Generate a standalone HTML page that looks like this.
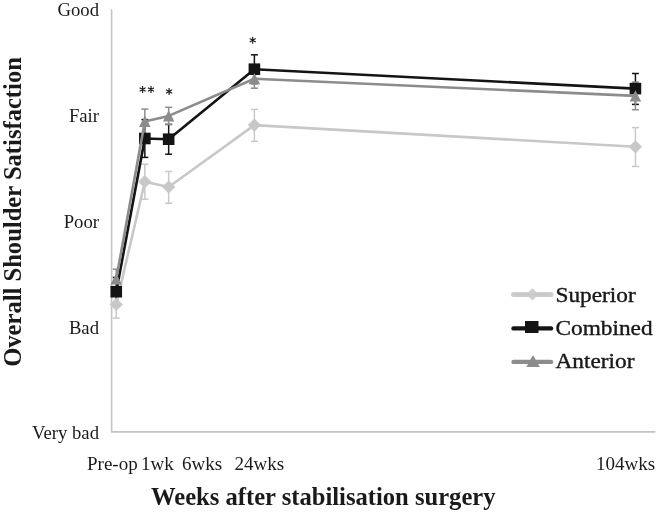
<!DOCTYPE html>
<html><head><meta charset="utf-8">
<style>
html,body{margin:0;padding:0;background:#fff;}
body{width:666px;height:513px;overflow:hidden;}
svg{display:block;will-change:transform;}
text{font-family:"Liberation Serif",serif;fill:#1a1a1a;}
</style></head><body>
<svg width="666" height="513" viewBox="0 0 666 513">
<rect width="666" height="513" fill="#fff"/>
<!-- axes -->
<path d="M111.6 9.8 V431.9 H654.8" fill="none" stroke="#c4c4c4" stroke-width="1.6" stroke-linejoin="round" stroke-linecap="round"/>
<!-- y labels -->
<g font-size="18.7" text-anchor="end">
<text x="99" y="16.2">Good</text>
<text x="99" y="122">Fair</text>
<text x="99" y="227.8">Poor</text>
<text x="99" y="333.6">Bad</text>
<text x="99" y="439.1">Very bad</text>
</g>
<!-- x labels -->
<g font-size="19">
<text x="87" y="469.6">Pre-op</text>
<text x="141" y="469.6">1wk</text>
<text x="182" y="469.6">6wks</text>
<text x="234.5" y="469.6">24wks</text>
<text x="596" y="469.6">104wks</text>
</g>
<text x="151" y="505.1" font-size="24.6" font-weight="bold">Weeks after stabilisation surgery</text>
<text transform="translate(21,212) rotate(-90)" text-anchor="middle" font-size="24.6" font-weight="bold">Overall Shoulder Satisfaction</text>
<g stroke="#c8c8c8" stroke-width="1.5"><line x1="116.26" y1="304.40" x2="116.26" y2="318.10"/><line x1="112.76" y1="318.10" x2="119.76" y2="318.10"/><line x1="144.84" y1="181.70" x2="144.84" y2="164.20"/><line x1="141.34" y1="164.20" x2="148.34" y2="164.20"/><line x1="144.84" y1="181.70" x2="144.84" y2="199.20"/><line x1="141.34" y1="199.20" x2="148.34" y2="199.20"/><line x1="168.66" y1="187.00" x2="168.66" y2="171.50"/><line x1="165.16" y1="171.50" x2="172.16" y2="171.50"/><line x1="168.66" y1="187.00" x2="168.66" y2="203.20"/><line x1="165.16" y1="203.20" x2="172.16" y2="203.20"/><line x1="254.39" y1="125.10" x2="254.39" y2="109.40"/><line x1="250.89" y1="109.40" x2="257.89" y2="109.40"/><line x1="254.39" y1="125.10" x2="254.39" y2="141.40"/><line x1="250.89" y1="141.40" x2="257.89" y2="141.40"/><line x1="635.43" y1="146.80" x2="635.43" y2="127.60"/><line x1="631.93" y1="127.60" x2="638.93" y2="127.60"/><line x1="635.43" y1="146.80" x2="635.43" y2="166.50"/><line x1="631.93" y1="166.50" x2="638.93" y2="166.50"/></g>
<g stroke="#141414" stroke-width="1.5"><line x1="116.26" y1="291.70" x2="116.26" y2="277.40"/><line x1="112.76" y1="277.40" x2="119.76" y2="277.40"/><line x1="116.26" y1="291.70" x2="116.26" y2="306.00"/><line x1="112.76" y1="306.00" x2="119.76" y2="306.00"/><line x1="144.84" y1="138.50" x2="144.84" y2="119.60"/><line x1="141.34" y1="119.60" x2="148.34" y2="119.60"/><line x1="144.84" y1="138.50" x2="144.84" y2="157.40"/><line x1="141.34" y1="157.40" x2="148.34" y2="157.40"/><line x1="168.66" y1="139.20" x2="168.66" y2="124.40"/><line x1="165.16" y1="124.40" x2="172.16" y2="124.40"/><line x1="168.66" y1="139.20" x2="168.66" y2="154.20"/><line x1="165.16" y1="154.20" x2="172.16" y2="154.20"/><line x1="254.39" y1="69.20" x2="254.39" y2="54.80"/><line x1="250.89" y1="54.80" x2="257.89" y2="54.80"/><line x1="254.39" y1="69.20" x2="254.39" y2="83.60"/><line x1="250.89" y1="83.60" x2="257.89" y2="83.60"/><line x1="635.43" y1="88.60" x2="635.43" y2="73.50"/><line x1="631.93" y1="73.50" x2="638.93" y2="73.50"/><line x1="635.43" y1="88.60" x2="635.43" y2="104.40"/><line x1="631.93" y1="104.40" x2="638.93" y2="104.40"/></g>
<g stroke="#8c8c8c" stroke-width="1.5"><line x1="116.26" y1="278.80" x2="116.26" y2="269.20"/><line x1="112.76" y1="269.20" x2="119.76" y2="269.20"/><line x1="116.26" y1="278.80" x2="116.26" y2="288.40"/><line x1="112.76" y1="288.40" x2="119.76" y2="288.40"/><line x1="144.84" y1="121.40" x2="144.84" y2="109.10"/><line x1="141.34" y1="109.10" x2="148.34" y2="109.10"/><line x1="144.84" y1="121.40" x2="144.84" y2="133.70"/><line x1="141.34" y1="133.70" x2="148.34" y2="133.70"/><line x1="168.66" y1="115.90" x2="168.66" y2="107.30"/><line x1="165.16" y1="107.30" x2="172.16" y2="107.30"/><line x1="168.66" y1="115.90" x2="168.66" y2="124.50"/><line x1="165.16" y1="124.50" x2="172.16" y2="124.50"/><line x1="254.39" y1="78.70" x2="254.39" y2="69.20"/><line x1="250.89" y1="69.20" x2="257.89" y2="69.20"/><line x1="254.39" y1="78.70" x2="254.39" y2="88.20"/><line x1="250.89" y1="88.20" x2="257.89" y2="88.20"/><line x1="635.43" y1="95.90" x2="635.43" y2="82.10"/><line x1="631.93" y1="82.10" x2="638.93" y2="82.10"/><line x1="635.43" y1="95.90" x2="635.43" y2="109.70"/><line x1="631.93" y1="109.70" x2="638.93" y2="109.70"/></g>
<polyline points="116.26,304.40 144.84,181.70 168.66,187.00 254.39,125.10 635.43,146.80" fill="none" stroke="#c8c8c8" stroke-width="2.6" stroke-linejoin="round" stroke-linecap="round"/>
<polygon points="116.26,297.80 122.86,304.40 116.26,311.00 109.66,304.40" fill="#c8c8c8"/><polygon points="144.84,175.10 151.44,181.70 144.84,188.30 138.24,181.70" fill="#c8c8c8"/><polygon points="168.66,180.40 175.26,187.00 168.66,193.60 162.06,187.00" fill="#c8c8c8"/><polygon points="254.39,118.50 260.99,125.10 254.39,131.70 247.79,125.10" fill="#c8c8c8"/><polygon points="635.43,140.20 642.03,146.80 635.43,153.40 628.83,146.80" fill="#c8c8c8"/>
<polyline points="116.26,291.70 144.84,138.50 168.66,139.20 254.39,69.20 635.43,88.60" fill="none" stroke="#141414" stroke-width="2.6" stroke-linejoin="round" stroke-linecap="round"/>
<rect x="110.46" y="285.90" width="11.60" height="11.60" fill="#141414"/><rect x="139.04" y="132.70" width="11.60" height="11.60" fill="#141414"/><rect x="162.86" y="133.40" width="11.60" height="11.60" fill="#141414"/><rect x="248.59" y="63.40" width="11.60" height="11.60" fill="#141414"/><rect x="629.63" y="82.80" width="11.60" height="11.60" fill="#141414"/>
<polyline points="116.26,278.80 144.84,121.40 168.66,115.90 254.39,78.70 635.43,95.90" fill="none" stroke="#8c8c8c" stroke-width="2.6" stroke-linejoin="round" stroke-linecap="round"/>
<polygon points="116.26,273.20 122.01,284.40 110.51,284.40" fill="#8c8c8c"/><polygon points="144.84,115.80 150.59,127.00 139.09,127.00" fill="#8c8c8c"/><polygon points="168.66,110.30 174.41,121.50 162.91,121.50" fill="#8c8c8c"/><polygon points="254.39,73.10 260.14,84.30 248.64,84.30" fill="#8c8c8c"/><polygon points="635.43,90.30 641.18,101.50 629.68,101.50" fill="#8c8c8c"/>
<path d="M142.60 86.00L142.60 93.00M139.57 87.75L145.63 91.25M145.63 87.75L139.57 91.25" stroke="#1e1e1e" stroke-width="1.15" fill="none"/><path d="M151.00 86.00L151.00 93.00M147.97 87.75L154.03 91.25M154.03 87.75L147.97 91.25" stroke="#1e1e1e" stroke-width="1.15" fill="none"/><path d="M169.10 88.10L169.10 95.10M166.07 89.85L172.13 93.35M172.13 89.85L166.07 93.35" stroke="#1e1e1e" stroke-width="1.15" fill="none"/><path d="M252.70 36.70L252.70 43.70M249.67 38.45L255.73 41.95M255.73 38.45L249.67 41.95" stroke="#1e1e1e" stroke-width="1.15" fill="none"/>
<!-- legend -->
<g stroke-width="4.4" stroke-linecap="round">
<line x1="513.5" y1="294.6" x2="551" y2="294.6" stroke="#cdcdcd" stroke-width="5"/>
<line x1="513.5" y1="328.4" x2="551" y2="328.4" stroke="#141414"/>
<line x1="513.5" y1="361.9" x2="551" y2="361.9" stroke="#8c8c8c"/>
</g>
<polygon points="532.50,288.20 538.60,294.30 532.50,300.40 526.40,294.30" fill="#cdcdcd"/>
<line x1="515" y1="294.6" x2="550" y2="294.6" stroke="#bdbdbd" stroke-width="1" stroke-dasharray="1 1.2"/>
<rect x="525" y="321" width="13.5" height="12" fill="#141414"/>
<polygon points="533,355 539.8,367 526.3,367" fill="#8c8c8c"/>
<g font-size="20" transform="translate(557,0) scale(1.165,1)" style="fill:#111;stroke:#111;stroke-width:0.35">
<text x="-1.3" y="302.1">Superior</text>
<text x="-1.3" y="335.2">Combined</text>
<text x="-1.3" y="368.2">Anterior</text>
</g>
</svg>
</body></html>
